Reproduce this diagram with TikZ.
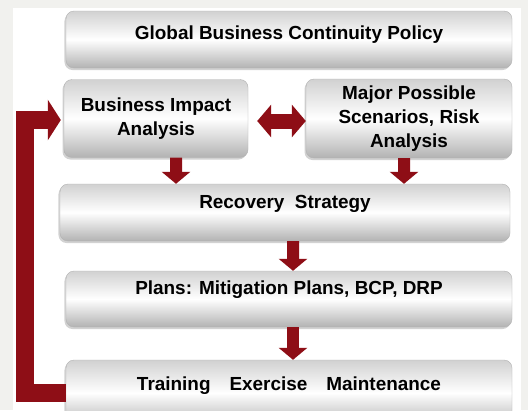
\documentclass[tikz,border=0pt]{standalone}
\usepackage{fontspec}
\setmainfont{Liberation Sans}
\usetikzlibrary{positioning,arrows.meta,shadows}
\definecolor{bcpred}{HTML}{8E0E16}
\definecolor{framegray}{HTML}{F1F1EE}

\begin{document}
\begin{tikzpicture}[x=1bp,y=-1bp]
        % Define styles for boxes and arrows
        \tikzstyle{panel} = [rectangle, rounded corners=8bp, draw=black!30, top color=black!18, bottom color=black!30, middle color=white, drop shadow={shadow xshift=-1.5bp, shadow yshift=-2bp, opacity=0.35}, font=\fontsize{19}{24}\selectfont\bfseries, align=center, inner sep=0pt]
        \tikzstyle{raised} = [text height=14bp]
        \tikzstyle{flow} = [line width=12bp, draw=bcpred, -{Triangle[width=28bp,length=12bp]}]
        \tikzstyle{both} = [line width=15bp, draw=bcpred, {Triangle[width=32bp,length=14bp]}-{Triangle[width=32bp,length=14bp]}]
        \tikzstyle{loopback} = [line width=18bp, draw=bcpred, line join=miter, -{Triangle[width=40bp,length=13bp]}]

        % Frame
        \useasboundingbox (0,0) rectangle (528,410);
        \fill[framegray] (0,0) rectangle (528,410);
        \fill[white] (13,8) rectangle (521,410);

        % Boxes
        \node[panel, raised, text depth=14bp, minimum width=446bp, minimum height=57bp] (policy) at (289,39.5) {Global Business Continuity Policy};
        \node[panel, minimum width=184bp, minimum height=78bp] (bia) at (156,118.5) {Business Impact\\Analysis};
        \node[panel, minimum width=206bp, minimum height=79bp] (risk) at (409,118.5) {Major Possible\\Scenarios, Risk\\Analysis};
        \node[panel, raised, text depth=23bp, minimum width=450bp, minimum height=57bp] (recovery) at (285,212.5) {Recovery\ \ Strategy};
        \node[panel, raised, text depth=24bp, minimum width=446bp, minimum height=56bp] (plans) at (289,299) {Plans: Mitigation Plans, BCP, DRP};
        \node[panel, raised, text depth=19bp, minimum width=446bp, minimum height=66bp] (training) at (289,393) {Training\quad Exercise\quad Maintenance};

        % Arrows
        \draw[both, shorten <=9bp] ([yshift=-2.5bp]bia.east) -- ([yshift=-2.5bp]risk.west);
        \draw[flow] ([xshift=20bp]bia.south) -- ([xshift=-109bp]recovery.north);
        \draw[flow] ([xshift=-5bp]risk.south) -- ([xshift=119bp]recovery.north);
        \draw[flow] ([xshift=8bp]recovery.south) -- ([xshift=4bp]plans.north);
        \draw[flow] ([xshift=4bp]plans.south) -- ([xshift=4bp]training.north);

        % Feedback loop
        \draw[loopback, shorten >=3bp] (training.west) -- ++(-41,0) |- ([yshift=-1.5bp]bia.west);
\end{tikzpicture}
\end{document}
